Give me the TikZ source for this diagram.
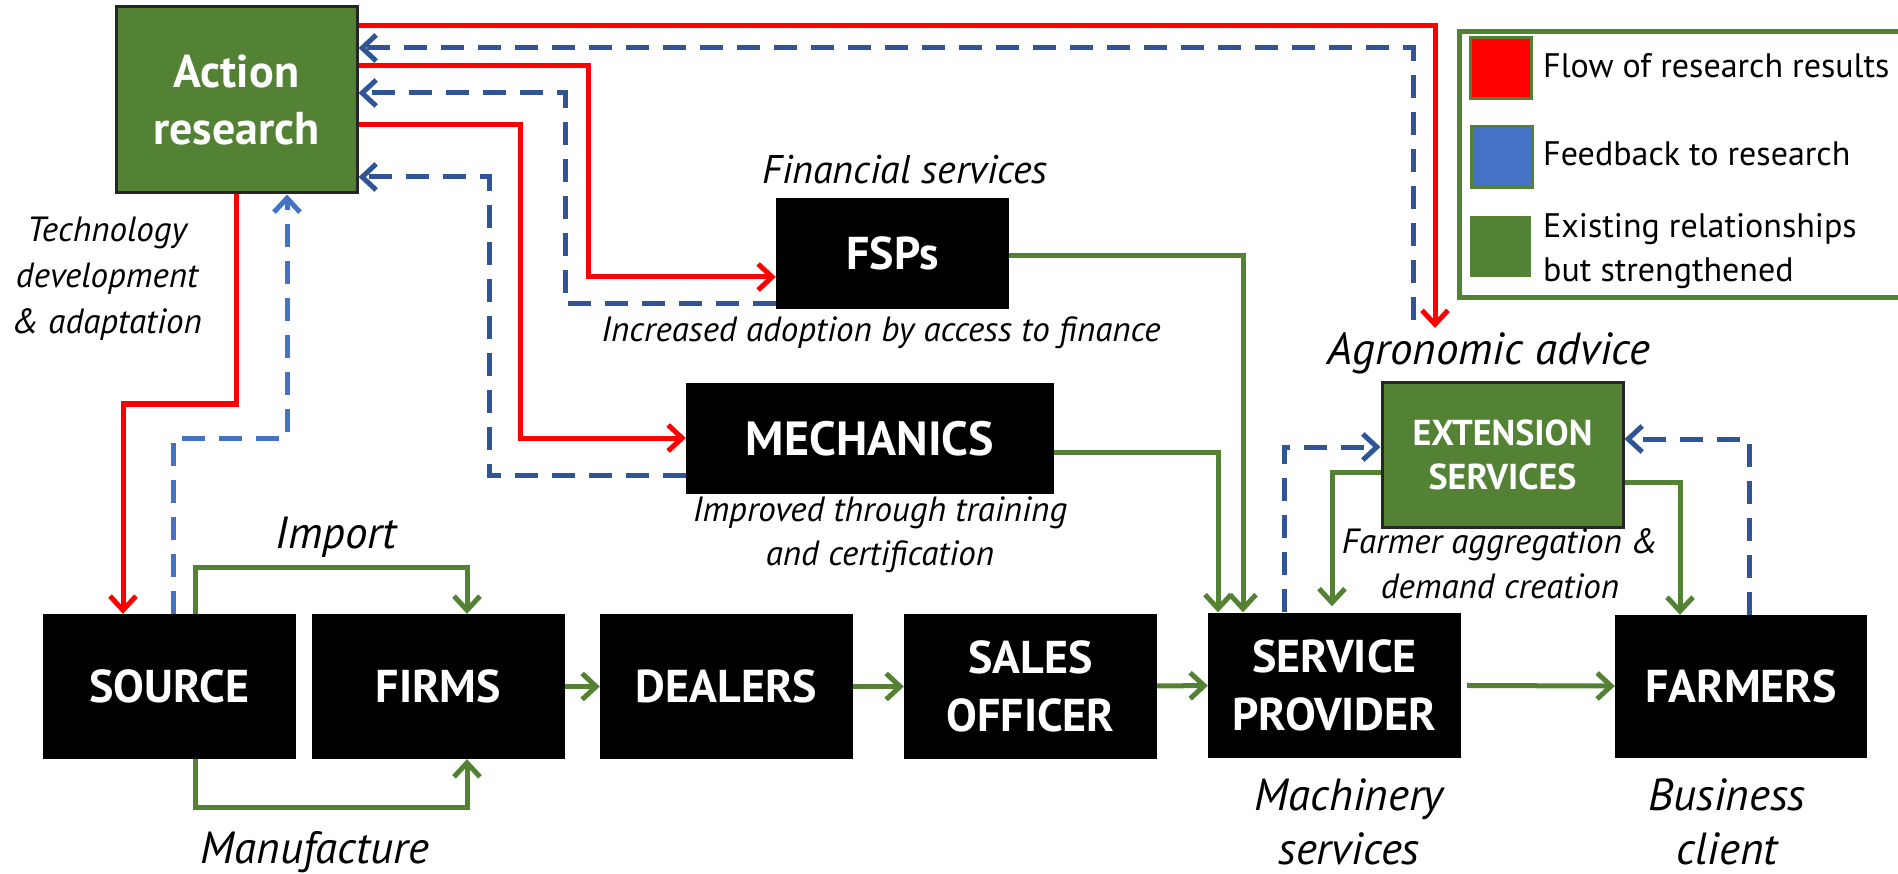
\documentclass[tikz,border=0pt]{standalone}
\usepackage{fontspec}
\setmainfont{PT Sans}
\usetikzlibrary{arrows.meta}
\definecolor{rd}{HTML}{FF0000}
\definecolor{gr}{HTML}{548235}
\definecolor{dbl}{HTML}{2F5597}
\definecolor{lbl}{HTML}{4472C4}
\definecolor{bord}{HTML}{262626}
\begin{document}
\begin{tikzpicture}[x=1pt,y=-1pt,
  tip/.style={-{Straight Barb[length=14pt,width=26pt]}},
  redline/.style={tip, draw=rd, line width=5pt},
  grline/.style={tip, draw=gr, line width=5pt},
  dbline/.style={tip, draw=dbl, line width=5pt, dash pattern=on 23pt off 14pt},
  lbline/.style={tip, draw=lbl, line width=5pt, dash pattern=on 23pt off 14pt},
  blk/.style={fill=black, inner sep=0pt, minimum width=253pt, minimum height=145pt,
    text=white, align=center, font=\bfseries\fontsize{46}{58}\selectfont},
  gbox/.style={fill=gr, draw=bord, line width=3pt, inner sep=0pt, text=white, align=center},
  itl/.style={align=center, inner sep=0pt, font=\itshape\fontsize{35}{45}\selectfont},
  itm/.style={align=center, inner sep=0pt, font=\itshape\fontsize{40}{48}\selectfont},
  itb/.style={align=center, inner sep=0pt, font=\itshape\fontsize{45}{55}\selectfont},
  leg/.style={anchor=west, align=left, inner sep=0pt, font=\fontsize{34}{44}\selectfont},
  sq/.style={fill=#1, draw=gr, line width=3pt, minimum width=61pt, minimum height=61pt, inner sep=0pt}
]
\useasboundingbox (0,0) rectangle (1898,874);

% boxes
\node[gbox, minimum width=241pt, minimum height=186pt, font=\bfseries\fontsize{46}{57}\selectfont] (act) at (236.5,100) {Action\\research};
\node[blk, minimum width=233pt, minimum height=111pt] (fsp) at (892.5,253.5) {FSPs};
\node[blk, minimum width=368pt, minimum height=111pt, font=\bfseries\fontsize{48}{58}\selectfont] (mech) at (870,438.5) {MECHANICS};
\node[gbox, minimum width=241pt, minimum height=144pt, font=\bfseries\fontsize{36}{44}\selectfont] (ext) at (1502.5,455) {EXTENSION\\SERVICES};
\node[blk] (src) at (169,686.5) {SOURCE};
\node[blk] (firms) at (438.5,686.5) {FIRMS};
\node[blk] (dealers) at (726.5,686.5) {DEALERS};
\node[blk] (sales) at (1030.5,686.5) {SALES\\OFFICER};
\node[blk] (sp) at (1334.5,685) {SERVICE\\PROVIDER};
\node[blk, minimum width=252pt, minimum height=143pt] (farmers) at (1741,686.5) {FARMERS};

% legend
\node[draw=gr, line width=5pt, minimum width=446pt, minimum height=266pt, inner sep=0pt] (legbox) at (1682,165) {};
\node[sq=rd] (sqr) at (1500.5,68.5) {};
\node[sq=lbl] (sqb) at (1501.5,157) {};
\node[sq=gr, draw=none] (sqg) at (1500.5,246.5) {};
\node[leg] (t1) at (1543,66) {Flow of research results};
\node[leg] (t2) at (1543,154) {Feedback to research};
\node[leg] (t3) at (1543,251) {Existing relationships\\but strengthened};

% labels
\node[itl, font=\itshape\fontsize{35}{46}\selectfont] (ltech) at (107,279) {Technology\\development\\\& adaptation};
\node[itm] (lfin) at (905,170) {Financial services};
\node[itl] (linc) at (881,333) {Increased adoption by access to finance};
\node[itl, font=\itshape\fontsize{35}{44}\selectfont] (limp) at (880,535) {Improved through training\\and certification};
\node[itb] (lagro) at (1489,353) {Agronomic advice};
\node[itl] (lfarm) at (1500,564) {Farmer aggregation \&\\demand creation};
\node[itb] (limport) at (336,537) {Import};
\node[itb] (lmanu) at (315,852) {Manufacture};
\node[itb, font=\itshape\fontsize{45}{54}\selectfont] (lmach) at (1349,822) {Machinery\\services};
\node[itb, font=\itshape\fontsize{45}{54}\selectfont] (lbus) at (1727,822) {Business\\client};

\coordinate (agro) at (1435,328);
\coordinate (agrofb) at (1413,320);

% red flows
\draw[redline] (act.east |- 0,26) -- (1435,26) -- (agro);
\draw[redline] (act.east |- 0,66) -- (588,66) -- (588,277) -- (fsp.west |- 0,277);
\draw[redline] (act.east |- 0,125) -- (520,125) -- (520,438) -- (mech.west |- 0,438);
\draw[redline] (act.south -| 236,0) -- (236,404) -- (123,404) -- (src.north -| 123,0);

% dark blue feedback
\draw[dbline] (agrofb) -- (1413,48) -- (act.east |- 0,48);
\draw[dbline] (fsp.west |- 0,304) -- (565,304) -- (565,93) -- (act.east |- 0,93);
\draw[dbline] (mech.west |- 0,475) -- (489,475) -- (489,177) -- (act.east |- 0,177);
\draw[dbline] (sp.north -| 1284,0) -- (1284,447) -- (ext.west |- 0,447);
\draw[dbline] (farmers.north -| 1749,0) -- (1749,439) -- (ext.east |- 0,439);

% light blue feedback
\draw[lbline] (src.north -| 173,0) -- (173,438) -- (287,438) -- (act.south -| 287,0);

% green relationships
\draw[grline] (src.north -| 195,0) -- (195,567) -- (467,567) -- (firms.north -| 467,0);
\draw[grline] (src.south -| 195,0) -- (195,807) -- (467,807) -- (firms.south -| 467,0);
\draw[grline] (firms) -- (dealers);
\draw[grline] (dealers) -- (sales);
\draw[grline] (sales) -- (sp);
\draw[grline, shorten <=6pt] (sp) -- (farmers);
\draw[grline] (fsp.east |- 0,256) -- (1243,256) -- (sp.north -| 1243,0);
\draw[grline] (mech.east |- 0,452) -- (1218,452) -- (sp.north -| 1218,0);
\draw[grline, shorten >=6pt] (ext.west |- 0,472) -- (1332,472) -- (sp.north -| 1332,0);
\draw[grline] (ext.east |- 0,482) -- (1680,482) -- (farmers.north -| 1680,0);
\end{tikzpicture}
\end{document}
